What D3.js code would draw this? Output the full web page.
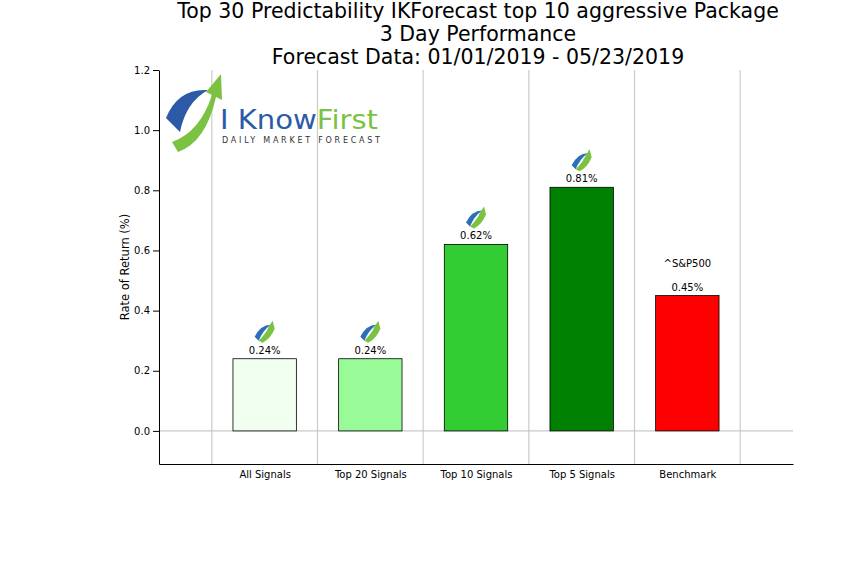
<!DOCTYPE html><html><head><meta charset="utf-8"><script src="https://cdn.jsdelivr.net/npm/d3@7"></script>
<style>body{margin:0;background:#fff}text{font-family:"DejaVu Sans",sans-serif}</style></head><body><svg width="862" height="580"></svg>
<script>
const categories=["All Signals","Top 20 Signals","Top 10 Signals","Top 5 Signals","Benchmark"];
const values=[0.24,0.24,0.62,0.81,0.45];
const colors=["#f0fff0","#98fb98","#32cd32","#008000","#ff0000"];
const yTicks=[0.0,0.2,0.4,0.6,0.8,1.0,1.2];
const titleLines=["Top 30 Predictability IKForecast top 10 aggressive Package","3 Day Performance","Forecast Data: 01/01/2019 - 05/23/2019"];
const svg=d3.select("svg");
const x=d3.scaleLinear().domain([-1,5]).range([159,793]);
const y=d3.scaleLinear().domain([-0.11,1.2]).range([464,70]);
titleLines.forEach((t,i)=>svg.append("text").attr("x",478).attr("y",18+i*23).attr("text-anchor","middle").attr("font-size",20.5).text(t));
[-0.5,0.5,1.5,2.5,3.5,4.5].forEach(v=>svg.append("line").attr("x1",x(v)).attr("x2",x(v)).attr("y1",70).attr("y2",464).attr("stroke","#ccc").attr("stroke-width",1.2));
svg.append("line").attr("x1",159).attr("x2",793).attr("y1",y(0)).attr("y2",y(0)).attr("stroke","#bbb");
const yAxis=svg.append("g").attr("transform","translate(159,0)").call(d3.axisLeft(y).tickValues(yTicks).tickFormat(d3.format(".1f")).tickSizeOuter(0));
const xAxis=svg.append("g").attr("transform","translate(0,464)").call(d3.axisBottom(x).tickValues([0,1,2,3,4]).tickFormat(i=>categories[i]).tickSizeOuter(0).tickSize(0).tickPadding(7));
[yAxis,xAxis].forEach(a=>{a.selectAll("text").attr("font-size",10).attr("fill","#000");a.select(".domain").attr("stroke","#000");});
svg.append("text").attr("transform","translate(129,267) rotate(-90)").attr("text-anchor","middle").attr("font-size",11.5).text("Rate of Return (%)");
const bw=x(0.3)-x(0);
values.forEach((v,i)=>{
 svg.append("rect").attr("x",x(i)-bw).attr("width",2*bw).attr("y",y(v)).attr("height",y(0)-y(v)).attr("fill",colors[i]).attr("stroke","#000").attr("stroke-width",0.8);
 svg.append("text").attr("x",x(i)).attr("y",y(v)-5).attr("text-anchor","middle").attr("font-size",10).text(v.toFixed(2)+"%");
 if(i<4){const g=svg.append("g").attr("transform",`translate(${x(i)},${y(v)-28})`);
  g.append("path").attr("d","M-10,6 Q-4,-6 6,-6 Q-2,0 -6,10 Z").attr("fill","#2a6fb8");
  g.append("path").attr("d","M-6,10 Q2,2 4,-4 L8,-10 L10,-2 Q6,8 -2,12 Z").attr("fill","#7cc242");}
});
svg.append("text").attr("x",x(4)).attr("y",y(0.45)-29).attr("text-anchor","middle").attr("font-size",10).text("^S&P500");
// logo
const L=svg.append("g");
L.append("path").attr("d","M166,118 Q178,88 208,90 Q186,102 180,132 Z").attr("fill","#2d5aa6");
L.append("path").attr("d","M172,142 Q200,132 212,95 L206,92 L221,74 L222,100 L216,97 Q206,142 178,152 Z").attr("fill","#7cc242");
L.append("text").attr("x",220).attr("y",129).attr("font-size",26).attr("textLength",158).attr("lengthAdjust","spacingAndGlyphs").attr("fill","#2d5aa6").text("I Know").append("tspan").attr("fill","#7cc242").text("First");
L.append("text").attr("x",222).attr("y",143).attr("font-size",8).attr("textLength",158).attr("fill","#333").text("DAILY MARKET FORECAST");
</script></body></html>
